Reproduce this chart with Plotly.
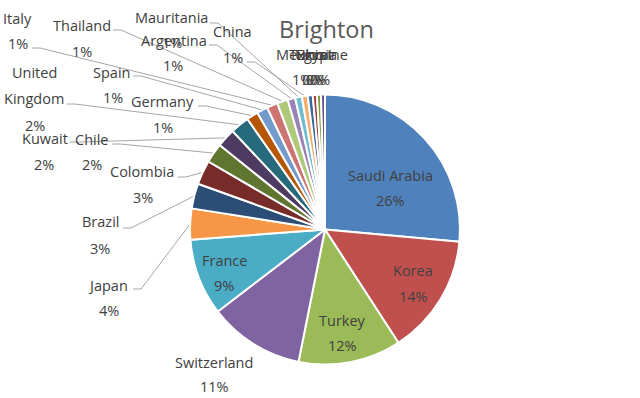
import math
import plotly.graph_objects as go

# ---------------- data ----------------
countries = ["Saudi Arabia", "Korea", "Turkey", "Switzerland", "France", "Japan",
             "Brazil", "Colombia", "Chile", "Kuwait", "United Kingdom", "Germany",
             "Spain", "Italy", "Thailand", "Argentina", "Mauritania", "China",
             "Mexico", "Tunisia", "Egypt", "Ukraine"]
values = [26.45, 14.4, 12.3, 11.45, 9.2, 3.7,
          3.0, 2.9, 2.35, 2.25, 2.25, 1.4,
          1.3, 1.3, 1.3, 0.9, 0.8, 0.7,
          0.6, 0.49, 0.48, 0.48]
colors = ["#4F81BD", "#C0504D", "#9BBB59", "#8064A2", "#4BACC6", "#F79646",
          "#2C4D75", "#772C2A", "#5F7530", "#4D3B62", "#276A7C", "#B65708",
          "#729ACA", "#CD7371", "#AFC97A", "#9983B5", "#6FBDD1", "#F9AB6B",
          "#3A679C", "#9E3B38", "#7F9D3F", "#69528A"]
title = "Brighton"

# ---------------- layout (pixel positions) ----------------
W, H = 640, 398
CX, CY, R = 325, 229.5, 135

# name lines: list of (text, x, y); pct position (x, y); leader start (x, y) or None
label_layout = {
    "Saudi Arabia":   ([("Saudi Arabia", 390.5, 175)], (390, 200), None),
    "Korea":          ([("Korea", 413, 270)], (413, 296), None),
    "Turkey":         ([("Turkey", 342, 320)], (342, 345), None),
    "Switzerland":    ([("Switzerland", 214, 362)], (214, 386), None),
    "France":         ([("France", 224, 260)], (224, 285), None),
    "Japan":          ([("Japan", 108, 285)], (109, 310), (133, 289)),
    "Brazil":         ([("Brazil", 100, 221.5)], (100, 248), (123, 228)),
    "Colombia":       ([("Colombia", 141.5, 171.5)], (143, 197), (178, 177)),
    "Chile":          ([("Chile", 91.5, 139)], (92, 164), (112, 144)),
    "Kuwait":         ([("Kuwait", 44.5, 138.5)], (44, 164), (70, 142)),
    "United Kingdom": ([("United", 34.5, 72), ("Kingdom", 34, 98.5)], (35, 125), (67, 104)),
    "Germany":        ([("Germany", 162.5, 101.5)], (163, 127), (198, 106)),
    "Spain":          ([("Spain", 111.5, 72)], (113, 97), (133, 76)),
    "Italy":          ([("Italy", 17.5, 18)], (17.5, 43), (32, 48)),
    "Thailand":       ([("Thailand", 81.5, 25)], (82, 51), (113, 30)),
    "Argentina":      ([("Argentina", 173.5, 40)], (173, 65), (209, 45)),
    "Mauritania":     ([("Mauritania", 171.5, 17.5)], (172, 42), (210, 23)),
    "China":          ([("China", 232.5, 31)], (233, 57), (247, 62)),
    "Mexico":         ([("Mexico", 300, 54)], (302, 79), None),
    "Tunisia":        ([("Tunisia", 313, 54)], (312, 79), None),
    "Egypt":          ([("Egypt", 314, 54)], (316, 79), None),
    "Ukraine":        ([("Ukraine", 321, 54)], (320, 79), None),
}

FONT = "Open Sans"
TXT = "#404040"
FS = 14.5

fig = go.Figure()
fig.add_trace(go.Pie(
    labels=countries, values=values, sort=False, direction="clockwise",
    rotation=0, textinfo="none", hoverinfo="label+percent",
    marker=dict(colors=colors, line=dict(color="white", width=2)),
    domain=dict(x=[(CX - R) / W, (CX + R) / W],
                y=[1 - (CY + R) / H, 1 - (CY - R) / H]),
    showlegend=False,
))

total = sum(values)
lx, ly = [], []
annotations = []
cum = 0.0
for name, v in zip(countries, values):
    mid = (cum + v / 2) / total * 2 * math.pi
    cum += v
    ex = CX + R * math.sin(mid)
    ey = CY - R * math.cos(mid)
    lines, pct_pos, start = label_layout[name]
    for t, x, y in lines:
        annotations.append(dict(x=x, y=y, xref="x", yref="y", text=t, showarrow=False,
                                font=dict(family=FONT, size=FS, color=TXT)))
    pct = f"{int(v / total * 100 + 0.5)}%"
    annotations.append(dict(x=pct_pos[0], y=pct_pos[1], xref="x", yref="y", text=pct,
                            showarrow=False, font=dict(family=FONT, size=FS, color=TXT)))
    if start is not None:
        sx, sy = start
        lx += [sx, sx + 8, ex, None]
        ly += [sy, sy, ey, None]

fig.add_trace(go.Scatter(x=lx, y=ly, mode="lines", line=dict(color="#A6A6A6", width=1),
                         hoverinfo="skip", showlegend=False, xaxis="x", yaxis="y"))

annotations.append(dict(x=326, y=29, xref="x", yref="y", text=title, showarrow=False,
                        font=dict(family=FONT, size=23.5, color="#595959")))

fig.update_layout(
    width=W, height=H, margin=dict(l=0, r=0, t=0, b=0),
    paper_bgcolor="white", plot_bgcolor="rgba(0,0,0,0)",
    xaxis=dict(range=[0, W], visible=False, fixedrange=True, domain=[0, 1]),
    yaxis=dict(range=[H, 0], visible=False, fixedrange=True, domain=[0, 1]),
    annotations=annotations,
)
fig.write_html("out.html", config={"displayModeBar": False},
               post_script="document.body.style.margin='0';")
